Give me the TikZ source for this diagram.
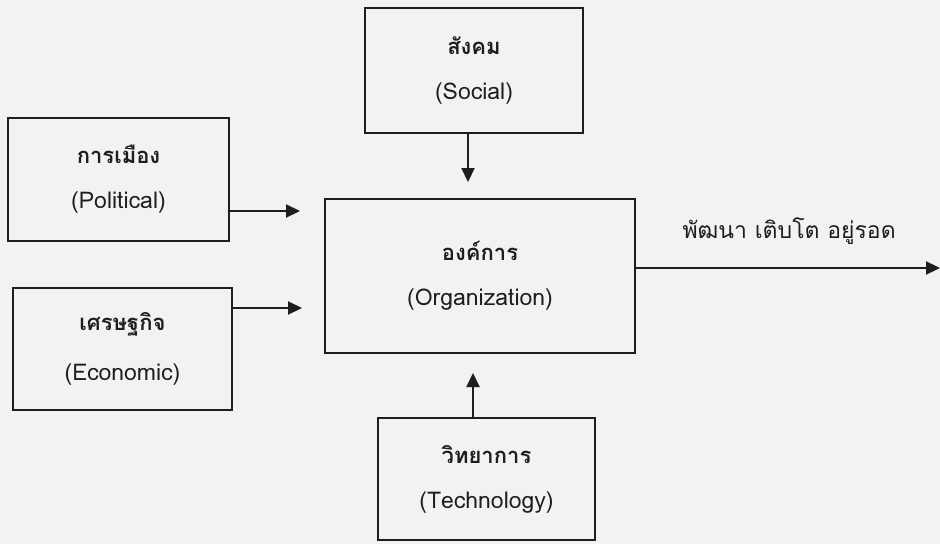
\documentclass[tikz,border=0pt]{standalone}
\usepackage{fontspec}
\newfontfamily\thaifont[Script=Thai]{Loma}
\usetikzlibrary{arrows.meta}

\definecolor{ink}{HTML}{1E1E1E}
\definecolor{paper}{HTML}{F2F2F0}

% Thai heading and English gloss of one box
\newcommand{\boxtext}[2]{{\fontsize{22}{24}\selectfont\bfseries #1}\\[27pt]{\fontsize{23}{25}\selectfont #2}}

\tikzset{
    box/.style={draw=ink, line width=1.8pt, rectangle, align=center,
        font=\thaifont, text=ink},
    arr/.style={draw=ink, line width=2.2pt, -{Triangle[length=14pt,width=13pt]}},
}

\begin{document}
\begin{tikzpicture}[x=1pt, y=-1pt]
    \fill[paper] (0,0) rectangle (940,544);
    \useasboundingbox (0,0) rectangle (940,544);

    \node[box, minimum width=221pt, minimum height=123pt] (pol) at (118.5,179.5)
        {\boxtext{การเมือง}{(Political)}};
    \node[box, minimum width=219pt, minimum height=122pt] (eco) at (122.5,349)
        {\boxtext{เศรษฐกิจ}{(Economic)}};
    \node[box, minimum width=218pt, minimum height=125pt] (soc) at (474,70.5)
        {\boxtext{สังคม}{(Social)}};
    \node[box, minimum width=310pt, minimum height=154pt] (org) at (480,276)
        {\boxtext{องค์การ}{(Organization)}};
    \node[box, minimum width=217pt, minimum height=122pt] (tec) at (486.5,479)
        {\boxtext{วิทยาการ}{(Technology)}};

    \coordinate (polend) at (300,211);
    \coordinate (ecoend) at (302,308);
    \coordinate (socend) at (468,182);
    \coordinate (tecend) at (473,373);
    \coordinate (outend) at (940,268);

    \draw[arr] (polend -| pol.east) -- (polend);
    \draw[arr] (ecoend -| eco.east) -- (ecoend);
    \draw[arr] (socend |- soc.south) -- (socend);
    \draw[arr] (tecend |- tec.north) -- (tecend);
    \draw[arr] (outend -| org.east) -- (outend);

    \node[anchor=base west, text=ink, font=\thaifont\fontsize{23}{25}\selectfont] (result)
        at (679,238) {พัฒนา เติบโต อยู่รอด};
\end{tikzpicture}
\end{document}
